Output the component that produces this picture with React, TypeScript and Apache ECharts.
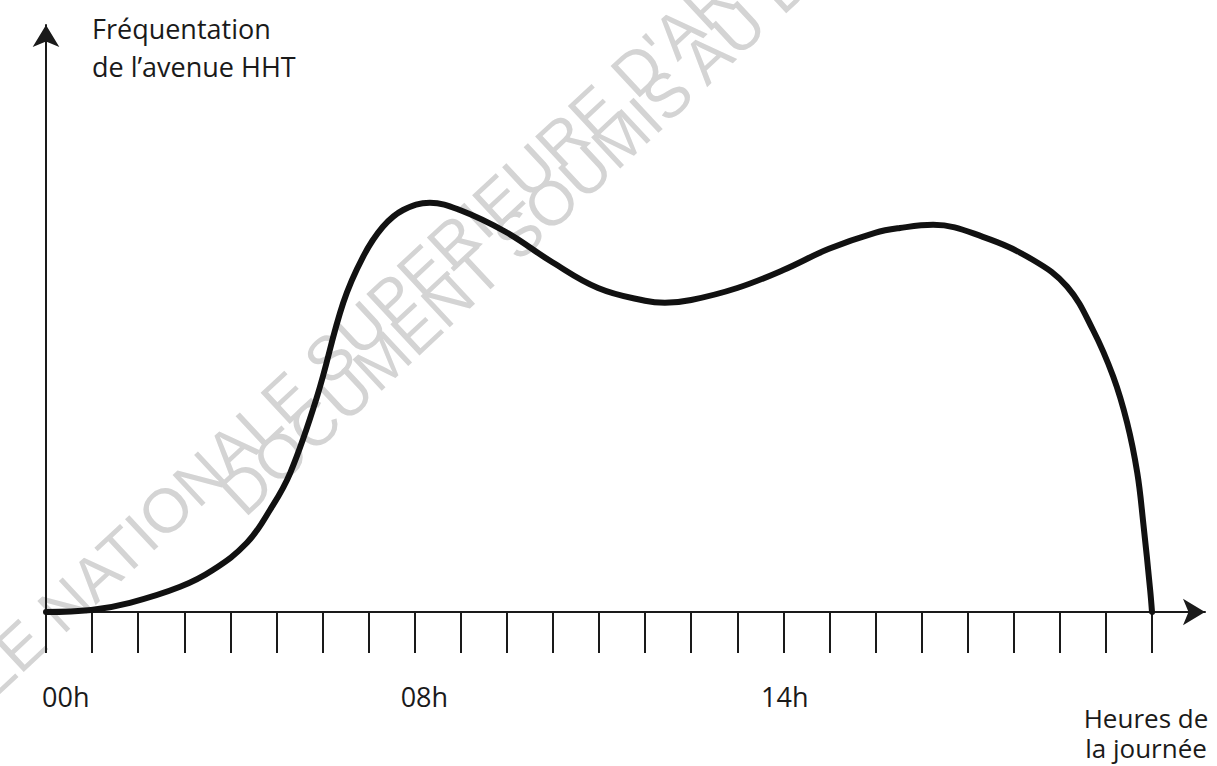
import React, { useEffect, useRef } from "react";
import * as echarts from "echarts";

// Hour of the day (x) and relative attendance of the avenue (y)
const hours = [0, 0.98, 1.82, 2.91, 3.62, 4.36, 4.86, 5.3, 5.88, 6.45, 6.88, 7.31, 7.75, 8.33, 8.98, 9.98, 10.98, 11.98, 13.0, 13.43, 14.0, 15.0, 16.0, 16.99, 17.99, 18.53, 19.25, 20.33, 21.42, 22.16, 22.72, 23.16, 23.46, 23.68, 23.81, 23.96, 24];
const frequentation = [0, 0.5, 2.3, 6.3, 10.5, 17.3, 25.5, 34.8, 53.8, 77.3, 88.8, 96.3, 100.5, 102.3, 100.5, 95, 87.5, 81, 77.8, 77.3, 78, 81, 85.5, 90.8, 94.8, 96, 96.8, 93.8, 88, 81.3, 70.5, 58.8, 47.3, 34.8, 22.3, 5.5, 0];

const tickHours = [0, 1, 2, 3, 4, 5, 6, 7, 8, 9, 10, 11, 12, 13, 14, 15, 16, 17, 18, 19, 20, 21, 22, 23, 24];
const labelHours = [0.43, 8.21, 16.03];
const labelTexts = ["00h", "08h", "14h"];

const yTitle = "Fréquentation\nde l’avenue HHT";
const xTitle = "Heures de\nla journée";
const watermark1 = "ECOLE NATIONALE SUPERIEURE D'ARCHITECTURE";
const watermark2 = "DOCUMENT SOUMIS AU DROIT D'AUTEUR";

const FONT = "'Open Sans', 'Noto Sans', sans-serif";
const WM_FONT = "'Liberation Sans', 'DejaVu Sans', sans-serif";
const INK = "#1a1a1a";
const WM_ANGLE = (43 * Math.PI) / 180;

export default function App() {
  const ref = useRef<HTMLDivElement>(null);
  useEffect(() => {
    if (!ref.current) return;
    const chart = echarts.init(ref.current, undefined, { renderer: "svg" });
    const nearestLabel = (v: number) => {
      let best = 0;
      for (let i = 1; i < labelHours.length; i++) {
        if (Math.abs(labelHours[i] - v) < Math.abs(labelHours[best] - v)) best = i;
      }
      return labelTexts[best];
    };
    chart.setOption({
      animation: false,
      backgroundColor: "#ffffff",
      grid: { left: 46, right: 12, top: 25, bottom: 154, containLabel: false, outerBoundsMode: "none" },
      xAxis: {
        type: "value",
        min: 0,
        max: 25.15,
        axisLine: {
          show: true,
          onZero: false,
          symbol: ["none", "arrow"],
          symbolSize: [20, 22],
          lineStyle: { color: INK, width: 2 },
        },
        axisTick: {
          show: true,
          customValues: tickHours,
          length: 41,
          inside: false,
          lineStyle: { color: INK, width: 2 },
        },
        axisLabel: {
          show: true,
          customValues: labelHours,
          formatter: (v: number) => nearestLabel(v),
          margin: 71,
          fontSize: 27,
          fontFamily: FONT,
          color: INK,
        },
        splitLine: { show: false },
      },
      yAxis: {
        type: "value",
        min: 0,
        max: 146.75,
        axisLine: {
          show: true,
          onZero: false,
          symbol: ["none", "arrow"],
          symbolSize: [20, 22],
          lineStyle: { color: INK, width: 2 },
        },
        axisTick: { show: false },
        axisLabel: { show: false },
        splitLine: { show: false },
      },
      graphic: [
        {
          type: "text",
          z: -10,
          x: -118,
          y: 775,
          rotation: WM_ANGLE,
          style: { text: watermark1, fontSize: 62, fontFamily: WM_FONT, fill: "#d4d4d4", textAlign: "left", textVerticalAlign: "middle" },
        },
        {
          type: "text",
          z: -10,
          x: 230,
          y: 503,
          rotation: WM_ANGLE,
          style: { text: watermark2, fontSize: 62, fontFamily: WM_FONT, fill: "#d4d4d4", textAlign: "left", textVerticalAlign: "middle" },
        },
        {
          type: "text",
          x: 92,
          y: 9,
          style: { text: yTitle, fontSize: 27, fontFamily: FONT, lineHeight: 38, fill: INK, textAlign: "left", textVerticalAlign: "top" },
        },
        {
          type: "text",
          x: 1146,
          y: 703,
          style: { text: xTitle, fontSize: 26, fontFamily: FONT, lineHeight: 30, fill: INK, textAlign: "center", textVerticalAlign: "top" },
        },
      ],
      series: [
        {
          type: "line",
          data: hours.map((h, i) => [h, frequentation[i]]),
          smooth: 0.4,
          showSymbol: false,
          symbol: "none",
          z: 5,
          lineStyle: { color: "#111111", width: 6, cap: "round", join: "round" },
        },
      ],
    });
    return () => chart.dispose();
  }, []);
  return <div ref={ref} style={{ position: "fixed", left: 0, top: 0, width: 1217, height: 766 }} />;
}
